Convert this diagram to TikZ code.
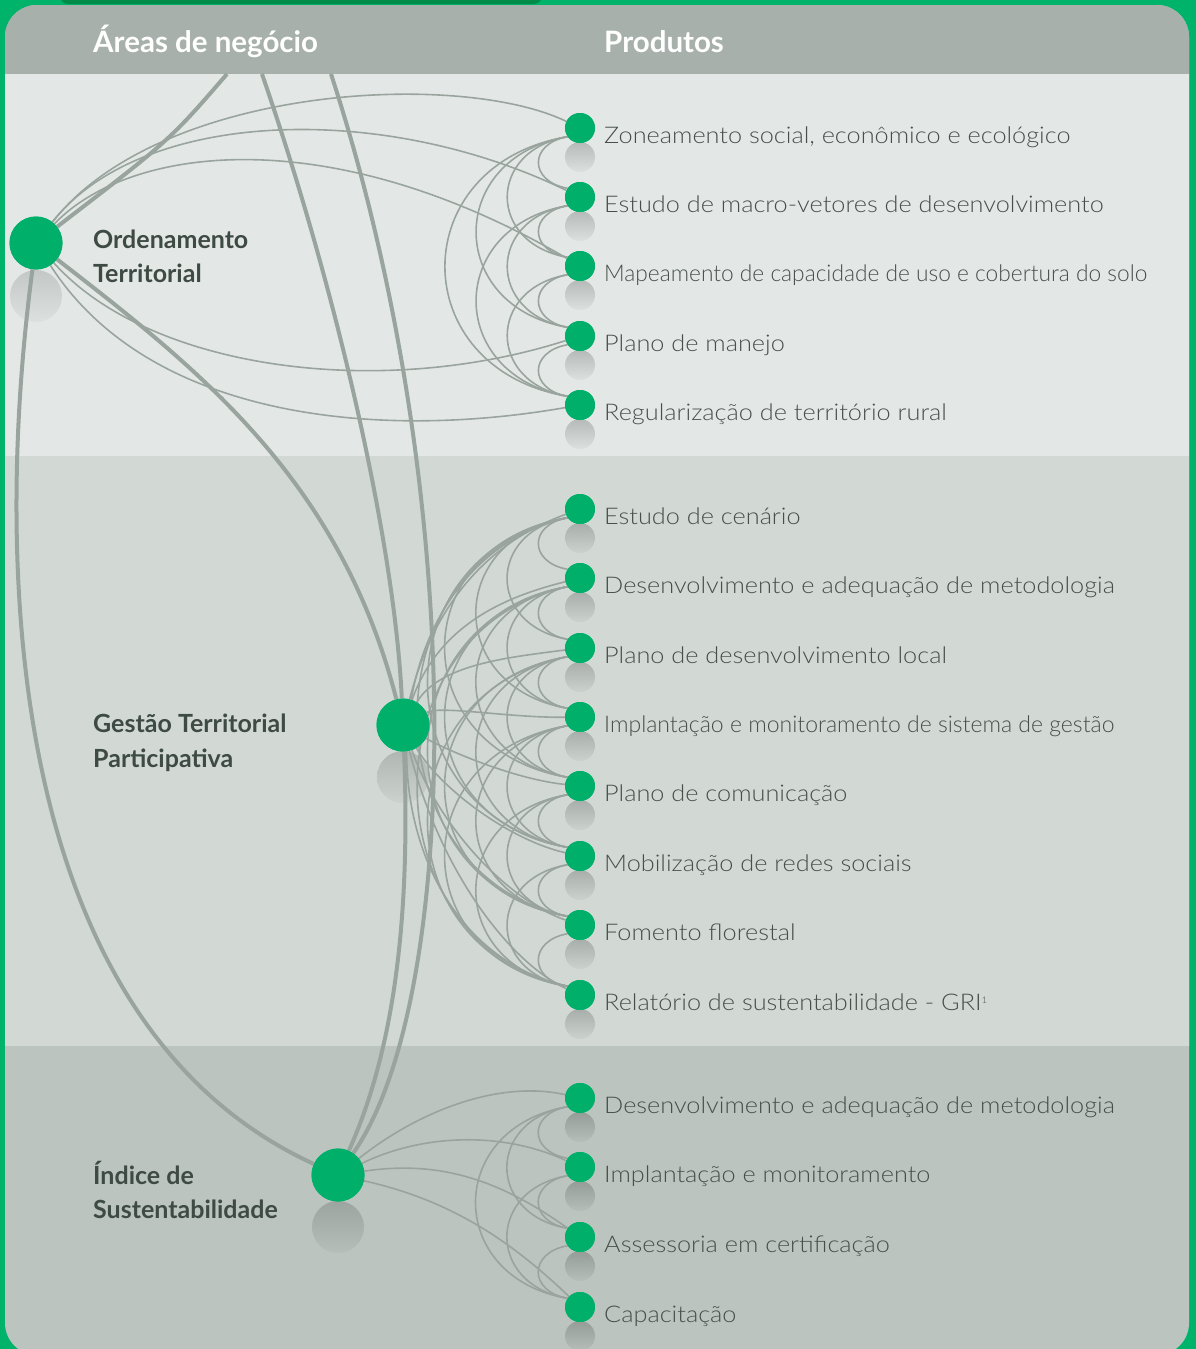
\documentclass[tikz,border=0pt]{standalone}
\usepackage{fontspec}
\setmainfont{Lato}
\newfontfamily\pf[FakeStretch=1.1]{Lato Light}
\newfontfamily\pfc[FakeStretch=0.988]{Lato Light}
\newfontfamily\pfd[FakeStretch=1.0]{Lato Light}
\definecolor{brand}{HTML}{00B36B}
\definecolor{dotg}{HTML}{00B06A}
\definecolor{tabg}{HTML}{008C48}
\definecolor{hdr}{HTML}{A7B0AB}
\definecolor{bgA}{HTML}{E3E8E6}
\definecolor{bgB}{HTML}{D2D9D5}
\definecolor{bgC}{HTML}{BBC4BF}
\definecolor{linkc}{HTML}{9AA49F}
\definecolor{txt}{HTML}{474F4B}
\definecolor{lbl}{HTML}{3E4A44}
\tikzset{
  dotnode/.style={circle,fill=dotg,minimum size=30,inner sep=0},
  bignode/.style={circle,fill=dotg,minimum size=53,inner sep=0},
  link/.style={draw=linkc,line width=1.6},
  heavy/.style={draw=linkc,line width=4},
  prod/.style={anchor=base west,inner sep=0,text=txt,font=\pf\fontsize{23}{26}\selectfont},
  prodc/.style={anchor=base west,inner sep=0,text=txt,font=\pfc\fontsize{23}{26}\selectfont},
  prodd/.style={anchor=base west,inner sep=0,text=txt,font=\pfd\fontsize{23}{26}\selectfont},
  lab/.style={anchor=base west,inner sep=0,text=lbl,font=\bfseries\fontsize{25}{28}\selectfont},
  hd/.style={anchor=base west,inner sep=0,text=white,font=\bfseries\fontsize{29.5}{30}\selectfont},
}
\newcommand\kgraph[4]{%
  \foreach \i [evaluate=\i as \ii using int(\i+1)] in {1,...,#2}{%
    \foreach \j in {\ii,...,#3}{%
      \pgfmathsetmacro\dd{(\j-\i)*#4}%
      \pgfmathsetmacro\bb{ifthenelse(\dd<=300,0.45*\dd,135+0.15*(\dd-300))}%
      \pgfmathsetmacro\cc{(\bb-2)/0.75}%
      \pgfmathsetmacro\vv{0.1*\dd}%
      \draw[link] (#1\i.215) .. controls +(-\cc,\vv) and +(-\cc,-\vv) .. (#1\j.145);
    }}}
\begin{document}
\begin{tikzpicture}[x=1pt,y=-1pt]
\useasboundingbox (0,0) rectangle (1196,1349);
\fill[brand] (0,0) rectangle (1196,1349);
\fill[tabg,rounded corners=8] (60,-20) rectangle (542,4);
\begin{scope}
  \clip[rounded corners=32] (5,5) rectangle (1189,1355);
  \fill[bgC] (0,0) rectangle (1196,1360);
  \fill[bgB] (0,456) rectangle (1196,1046);
  \fill[bgA] (0,74) rectangle (1196,456);
  \fill[hdr] (0,0) rectangle (1196,74);
\end{scope}
% shadows
\foreach \y in {128,197,266,336,405}
  \shade[top color=bgA!80!black,bottom color=bgA!97!black] (580,\y+29) circle (15);
\foreach \y in {509,578,648,717,786,856,925,995}
  \shade[top color=bgB!80!black,bottom color=bgB!97!black] (580,\y+29) circle (15);
\foreach \y in {1098,1167,1237,1307}
  \shade[top color=bgC!80!black,bottom color=bgC!97!black] (580,\y+29) circle (15);
\shade[top color=bgA!86!black,bottom color=bgA!97!black] (36,296) circle (26);
\shade[top color=bgB!84!black,bottom color=bgB!97!black] (403,777) circle (26);
\shade[top color=bgC!84!black,bottom color=bgC!97!black] (338,1227) circle (26);
% nodes
\node[bignode] (O) at (36,243) {};
\node[bignode] (G) at (403,725) {};
\node[bignode] (I) at (338,1175) {};
\foreach \k/\y in {1/128,2/197,3/266,4/336,5/405}
  \node[dotnode] (z\k) at (580,\y) {};
\foreach \k/\y in {1/509,2/578,3/648,4/717,5/786,6/856,7/925,8/995}
  \node[dotnode] (g\k) at (580,\y) {};
\foreach \k/\y in {1/1098,2/1167,3/1237,4/1307}
  \node[dotnode] (s\k) at (580,\y) {};
\coordinate (t1) at (227,74);
\coordinate (t2) at (262,74);
\coordinate (t3) at (331,74);
% heavy connectors
\draw[heavy] (t1) .. controls (170,140) .. (O);
\draw[heavy] (t2) .. controls (340,300) and (395,550) .. (G);
\draw[heavy] (t3) .. controls (470,500) and (460,1000) .. (I);
\draw[heavy] (G) .. controls (412,950) and (385,1070) .. (I);
\draw[heavy] (O) .. controls (200,370) and (340,480) .. (G);
\draw[heavy] (O) .. controls (-5,550) and (0,1020) .. (I);
% Ordenamento links
\draw[link] (O) .. controls (160,85) and (460,70) .. (z1);
\draw[link] (O) .. controls (140,110) and (380,100) .. (z2);
\draw[link] (O) .. controls (130,145) and (330,120) .. (z3);
\draw[link] (O) .. controls (150,370) and (380,400) .. (z4);
\draw[link] (O) .. controls (150,420) and (380,440) .. (z5);
% Gestao links
\foreach \k/\y in {1/509,2/578,3/648,4/717,5/786,6/856,7/925,8/995}{
  \pgfmathsetmacro\pa{725+0.6*(\y-725)-15}
  \pgfmathsetmacro\pb{\y+0.12*(725-\y)}
  \draw[link] (G) .. controls (440,\pa) and (510,\pb) .. (g\k);
}
% Indice links
\draw[link] (I) .. controls (420,1110) and (500,1080) .. (s1);
\draw[link] (I) .. controls (420,1135) and (500,1130) .. (s2);
\draw[link] (I) .. controls (440,1160) and (500,1180) .. (s3);
\draw[link] (I) .. controls (450,1200) and (510,1240) .. (s4);
% product complete graphs
\kgraph{z}{4}{5}{69.25}
\kgraph{g}{7}{8}{69.43}
\kgraph{s}{3}{4}{69.67}
% redraw dots on top
\foreach \y in {128,197,266,336,405,509,578,648,717,786,856,925,995,1098,1167,1237,1307}
  \fill[dotg] (580,\y) circle (15);
\fill[dotg] (36,243) circle (26.5);
\fill[dotg] (403,725) circle (26.5);
\fill[dotg] (338,1175) circle (26.5);
% header
\node[hd] (h1) at (93,52) {Áreas de negócio};
\node[hd] (h2) at (604,52) {Produtos};
% labels
\node[lab] (l1a) at (93,248) {Ordenamento};
\node[lab] (l1b) at (93,282) {Territorial};
\node[lab] (l2a) at (93,732) {Gestão Territorial};
\node[lab] (l2b) at (93,767) {Participativa};
\node[lab] (l3a) at (93,1184) {Índice de};
\node[lab] (l3b) at (93,1218) {Sustentabilidade};
% products
\node[prod] (p1) at (604,143) {Zoneamento social, econômico e ecológico};
\node[prod] (p2) at (604,212) {Estudo de macro-vetores de desenvolvimento};
\node[prodc] (p3) at (604,281) {Mapeamento de capacidade de uso e cobertura do solo};
\node[prod] (p4) at (604,351) {Plano de manejo};
\node[prod] (p5) at (604,420) {Regularização de território rural};
\node[prod] (p6) at (604,524) {Estudo de cenário};
\node[prod] (p7) at (604,593) {Desenvolvimento e adequação de metodologia};
\node[prod] (p8) at (604,663) {Plano de desenvolvimento local};
\node[prodd] (p9) at (604,732) {Implantação e monitoramento de sistema de gestão};
\node[prod] (p10) at (604,801) {Plano de comunicação};
\node[prod] (p11) at (604,871) {Mobilização de redes sociais};
\node[prod] (p12) at (604,940) {Fomento florestal};
\node[prod] (p13) at (604,1010) {Relatório de sustentabilidade - GRI\raisebox{7pt}{\fontsize{9}{9}\selectfont 1}};
\node[prod] (p14) at (604,1113) {Desenvolvimento e adequação de metodologia};
\node[prod] (p15) at (604,1182) {Implantação e monitoramento};
\node[prod] (p16) at (604,1252) {Assessoria em certificação};
\node[prod] (p17) at (604,1322) {Capacitação};
\end{tikzpicture}
\end{document}
